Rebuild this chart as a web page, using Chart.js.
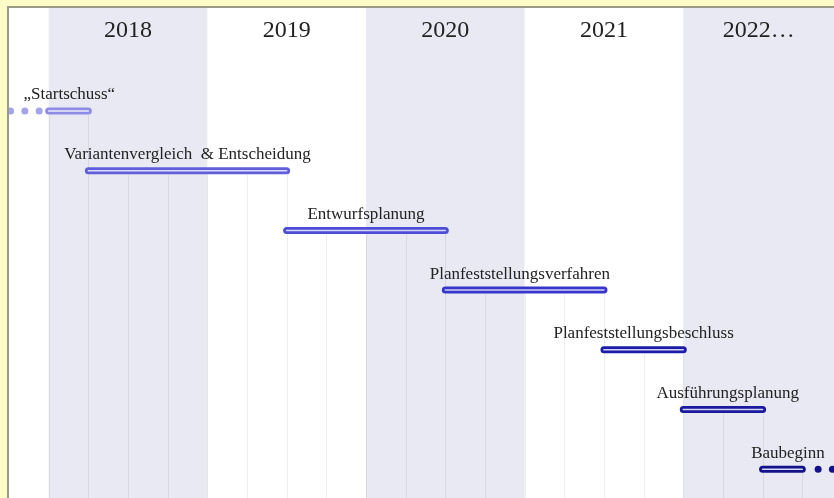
<!DOCTYPE html>
<html>
<head>
<meta charset="utf-8">
<script src="https://cdn.jsdelivr.net/npm/chart.js@4"></script>
<style>
  html, body { margin: 0; padding: 0; background: #fdfcc6; overflow: hidden; }
  #wrap {
    position: absolute; left: 7px; top: 6px;
    width: 825px; height: 490px;
    border-left: 2px solid #9c9c86; border-top: 2px solid #9c9c86;
    background: #fff;
  }
</style>
</head>
<body>
<div id="wrap"><canvas id="c"></canvas></div>
<script>
// timeline data (years as decimals, quarter steps)
const tasks = ['„Startschuss“', 'Variantenvergleich  & Entscheidung', 'Entwurfsplanung',
  'Planfeststellungsverfahren', 'Planfeststellungsbeschluss', 'Ausführungsplanung', 'Baubeginn']
const starts = [2018.0, 2018.25, 2019.5, 2020.5, 2021.5, 2022.0, 2022.5]
const ends = [2018.25, 2019.5, 2020.5, 2021.5, 2022.0, 2022.5, 2022.75]
const labelAt = [2018.13, 2018.875, 2020.0, 2020.97, 2021.75, 2022.28, 2022.66]
const leadDots = [2017.76, 2017.85, 2017.94]
const tailDots = [2022.85, 2022.94]
const years = [2018, 2019, 2020, 2021, 2022]
const yearLabels = ['2018', '2019', '2020', '2021', '2022…']
const shadedYears = [2018, 2020, 2022]

const outerColors = ['#8c8ce6', '#5f5fdc', '#4c4cd6', '#3636cc', '#1c1caa', '#1a1a9e', '#12128c']
const innerColors = ['#ececfc', '#dcdcf8', '#d6d6f6', '#d0d0f4', '#d2d2f0', '#d2d2f0', '#d6d6f0']

const X_MIN = 2017.75, X_MAX = 2022.95
const Y_MIN = -1.725, Y_MAX = 6.482
const HEADER_ROW = -1.35

const datasets = []
tasks.forEach((t, i) => {
  // light centre line first so it is painted on top
  datasets.push({
    data: [{ x: starts[i], y: i }, { x: ends[i], y: i }],
    showLine: true, borderColor: innerColors[i], borderWidth: 1.5,
    borderCapStyle: 'round', pointRadius: 0, order: 0,
  })
  datasets.push({
    data: [{ x: starts[i], y: i }, { x: ends[i], y: i }],
    showLine: true, borderColor: outerColors[i], borderWidth: 7,
    borderCapStyle: 'round', pointRadius: 0, order: 1,
  })
})
datasets.push({
  data: leadDots.map((x) => ({ x, y: 0 })),
  showLine: false, pointRadius: 3.5, pointBorderWidth: 0,
  pointBackgroundColor: '#a4a4ee', order: 1,
})
datasets.push({
  data: tailDots.map((x) => ({ x, y: 6 })),
  showLine: false, pointRadius: 3.5, pointBorderWidth: 0,
  pointBackgroundColor: '#12128c', order: 1,
})

const timelinePlugin = {
  id: 'timeline',
  beforeDatasetsDraw(chart) {
    const { ctx, chartArea: a, scales: { x, y } } = chart
    ctx.save()
    // year bands
    ctx.fillStyle = '#e9e9f3'
    shadedYears.forEach((yr) => {
      const x0 = Math.max(x.getPixelForValue(yr), a.left)
      const x1 = Math.min(x.getPixelForValue(yr + 1), a.right)
      ctx.fillRect(x0, a.top, x1 - x0, a.bottom - a.top)
    })
    // quarter lines, dropping from the first bar that covers them
    ctx.strokeStyle = 'rgba(0,0,0,0.07)'
    ctx.lineWidth = 1
    for (let q = 2018; q <= 2022.76; q += 0.25) {
      const i = tasks.findIndex((t, k) => starts[k] <= q + 1e-6 && ends[k] >= q - 1e-6)
      if (i < 0) continue
      const px = Math.round(x.getPixelForValue(q)) + 0.5
      ctx.beginPath()
      ctx.moveTo(px, y.getPixelForValue(i) + 4)
      ctx.lineTo(px, a.bottom)
      ctx.stroke()
    }
    // year headers
    ctx.fillStyle = '#222'
    ctx.font = "24px 'Liberation Serif', 'Times New Roman', serif"
    ctx.textAlign = 'center'
    ctx.textBaseline = 'middle'
    years.forEach((yr, k) => {
      const x0 = Math.max(x.getPixelForValue(yr), a.left)
      const x1 = Math.min(x.getPixelForValue(yr + 1), a.right)
      ctx.fillText(yearLabels[k], (x0 + x1) / 2, y.getPixelForValue(HEADER_ROW))
    })
    ctx.restore()
  },
  afterDatasetsDraw(chart) {
    const { ctx, scales: { x, y } } = chart
    ctx.save()
    ctx.fillStyle = '#222'
    ctx.font = "17px 'Liberation Serif', 'Times New Roman', serif"
    ctx.textAlign = 'center'
    ctx.textBaseline = 'middle'
    tasks.forEach((t, i) => {
      ctx.fillText(t, x.getPixelForValue(labelAt[i]), y.getPixelForValue(i) - 16)
    })
    ctx.restore()
  },
}

new Chart(document.getElementById('c'), {
  type: 'scatter',
  data: { datasets },
  plugins: [timelinePlugin],
  options: {
    responsive: true,
    maintainAspectRatio: false,
    animation: false,
    layout: { padding: 0, autoPadding: false },
    plugins: { legend: { display: false }, tooltip: { enabled: false } },
    scales: {
      x: { type: 'linear', min: X_MIN, max: X_MAX, display: false },
      y: { type: 'linear', min: Y_MIN, max: Y_MAX, reverse: true, display: false },
    },
  },
})
</script>
</body>
</html>
